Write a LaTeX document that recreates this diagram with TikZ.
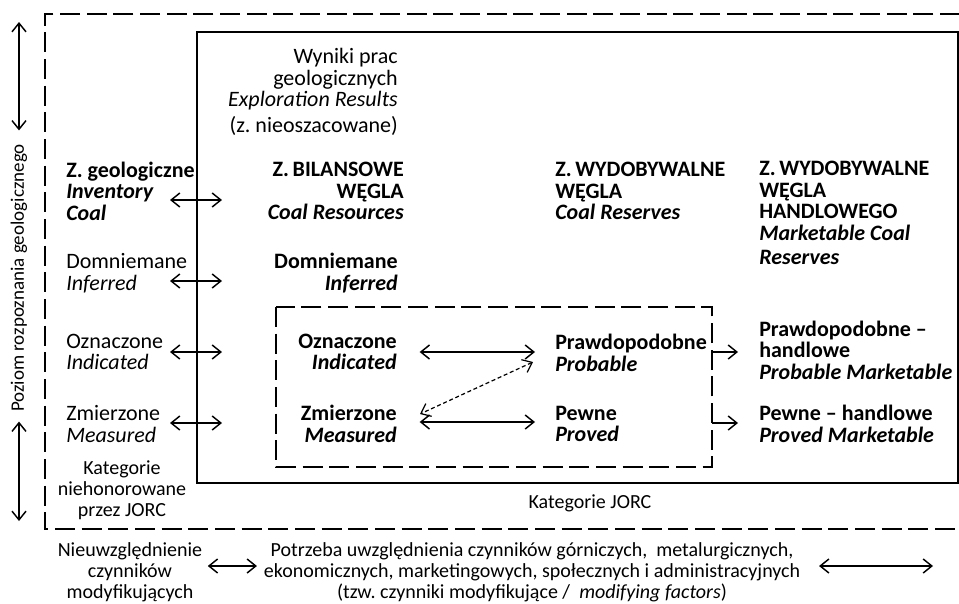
\documentclass[tikz,border=0pt]{standalone}
\usepackage{fontspec}
\setmainfont{Carlito}
\usetikzlibrary{arrows.meta,calc}

\tikzset{
  txt/.style={inner sep=0pt, font=\fontsize{16.5}{16.2}\selectfont},
  small/.style={inner sep=0pt, font=\fontsize{15}{15.8}\selectfont},
  barb/.tip={Straight Barb[length=6.5pt,width=10.5pt]},
  dbl/.style={barb-barb, line width=1.1pt},
  sgl/.style={-barb, line width=1.1pt},
  frame/.style={line width=2.2pt},
  dframe/.style={line width=2.2pt, dash pattern=on 15pt off 5pt},
}

\begin{document}
\frenchspacing
\begin{tikzpicture}[x=0.75pt,y=-0.75pt]
  \useasboundingbox (0,0) rectangle (959,603);

  % ramki
  \draw[dframe] (960,14) -- (45,14) -- (45,529) -- (960,529);
  \draw[frame] (197,32) rectangle (958,483);
  \coordinate (ib-nw) at (276,307);
  \coordinate (ib-se) at (712,467);
  \draw[dframe] (ib-nw) rectangle (ib-se);

  % os pionowa
  \node[inner sep=0pt, rotate=90, font=\fontsize{14.25}{15}\selectfont] (poz) at (19,278) {Poziom rozpoznania geologicznego};
  \coordinate (ptop) at (19,22);
  \coordinate (pbot) at (19,521);
  \draw[dbl] ([yshift=10pt]poz.east) -- (ptop);
  \draw[dbl] ([yshift=-7pt]poz.west) -- (pbot);

  % kolumna 1
  \node[txt, anchor=west, align=left] (zg) at (66,191) {\textbf{Z. geologiczne}\\\textbf{\textit{Inventory}}\\\textbf{\textit{Coal}}};
  \node[txt, anchor=west, align=left] (dom) at (66,273) {Domniemane\\\textit{Inferred}};
  \node[txt, anchor=west, align=left] (ozn) at (66,352) {Oznaczone\\\textit{Indicated}};
  \node[txt, anchor=west, align=left] (zm) at (66,424) {Zmierzone\\\textit{Measured}};
  \node[small, align=center] (kat) at (122,490) {Kategorie\\niehonorowane\\przez JORC};

  \foreach \n/\y in {a/200,b/281,c/352,d/423}{
    \coordinate (L\n) at (170,\y);
    \coordinate (R\n) at (222,\y);
    \draw[dbl] (L\n) -- (R\n);
  }

  % kolumna 2
  \node[txt, anchor=east, align=right] (wyn) at (398,92) {Wyniki prac\\geologicznych\\\textit{Exploration Results}\\[3pt](z. nieoszacowane)};
  \node[txt, anchor=east, align=right] (bil) at (404,191) {\textbf{Z.\,BILANSOWE}\\\textbf{WĘGLA}\\\textbf{\textit{Coal Resources}}};
  \node[txt, anchor=east, align=right] (dom2) at (398,273) {\textbf{Domniemane}\\\textbf{\textit{Inferred}}};
  \node[txt, anchor=east, align=right] (ozn2) at (397,352) {\textbf{Oznaczone}\\\textbf{\textit{Indicated}}};
  \node[txt, anchor=east, align=right] (zm2) at (397,424) {\textbf{Zmierzone}\\\textbf{\textit{Measured}}};

  % kolumna 3
  \node[txt, anchor=west, align=left] (wyd) at (555,191) {\textbf{Z.\,WYDOBYWALNE}\\\textbf{WĘGLA}\\\textbf{\textit{Coal Reserves}}};
  \node[txt, anchor=west, align=left] (prob) at (555,353) {\textbf{Prawdopodobne}\\\textbf{\textit{Probable}}};
  \node[txt, anchor=west, align=left] (pew) at (555,424) {\textbf{Pewne}\\\textbf{\textit{Proved}}};

  % kolumna 4
  \node[txt, anchor=west, align=left] (han) at (759,213) {\textbf{Z.\,WYDOBYWALNE}\\\textbf{WĘGLA}\\\textbf{HANDLOWEGO}\\\textbf{\textit{Marketable Coal}}\\[2pt]\textbf{\textit{Reserves}}};
  \node[txt, anchor=west, align=left] (probh) at (759,350) {\textbf{Prawdopodobne –}\\\textbf{handlowe}\\\textbf{\textit{Probable Marketable}}};
  \node[txt, anchor=west, align=left] (pewh) at (759,424) {\textbf{Pewne – handlowe}\\\textbf{\textit{Proved Marketable}}};

  \node[small] (jorc) at (590,503) {Kategorie JORC};

  % strzalki srodkowe
  \draw[dbl, shorten <=17pt, shorten >=15pt] (ozn2.east) -- (prob.west |- ozn2.east);
  \draw[dbl, shorten <=17pt, shorten >=15pt] ([yshift=1.5pt]zm2.east) -- ([yshift=1.5pt]pew.west);
  \draw[dbl, line width=0.9pt, dash pattern=on 3pt off 2pt] ($(prob.west)+(-22,9)$) -- ($(zm2.east)+(23,-10)$);
  \draw[sgl, shorten >=15.75pt] (ib-se |- ozn2) -- (probh.west |- ozn2);
  \draw[sgl, shorten >=15.75pt] ([yshift=0.75pt]ib-se |- pew) -- ([yshift=0.75pt]pewh.west |- pew);

  % dol
  \node[small, align=center] (nie) at (130,572) {Nieuwzględnienie\\czynników\\modyfikujących};
  \node[small, align=center] (pot) at (532,572) {Potrzeba uwzględnienia czynników górniczych,\ \ metalurgicznych,\\ekonomicznych, marketingowych, społecznych i administracyjnych\\(tzw. czynniki modyfikujące /\ \ \textit{modifying factors})};
  \coordinate (fend) at (933,566);
  \draw[dbl, shorten <=4pt, shorten >=5pt] ([yshift=4.5pt]nie.east) -- ([yshift=4.5pt]pot.west);
  \draw[dbl, shorten <=14pt] (pot.east |- fend) -- (fend);
\end{tikzpicture}
\end{document}
